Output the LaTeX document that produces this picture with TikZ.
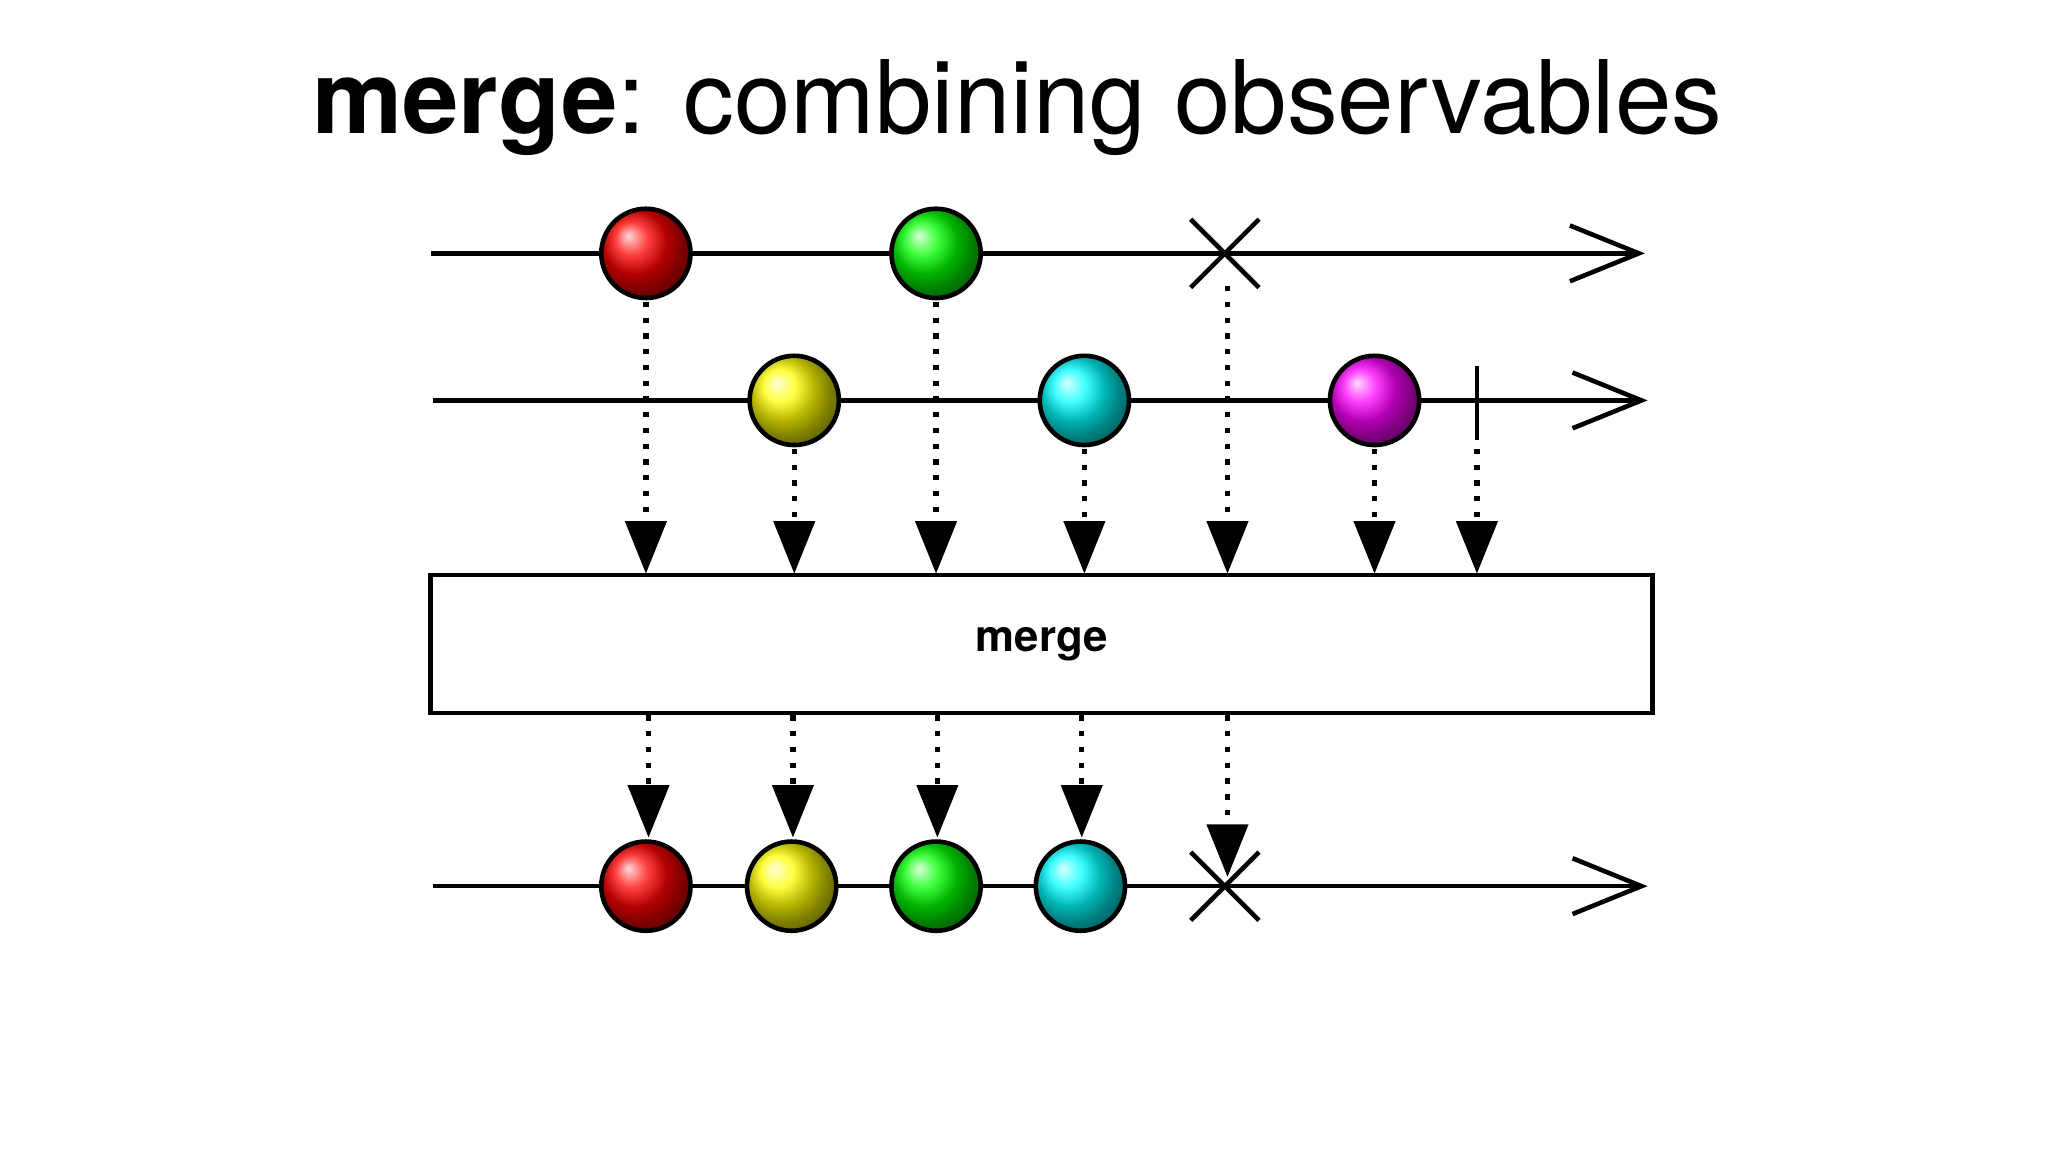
\documentclass[tikz,border=0pt]{standalone}
\usepackage{fontspec}
\setmainfont{TeX Gyre Heros}
\usetikzlibrary{arrows.meta,calc}
\begin{document}
\begin{tikzpicture}[x=0.02cm,y=-0.02cm,
  tl/.style={line width=0.07cm,-{Straight Barb[length=1.05cm,width=0.85cm,line width=0.07cm]}},
  dl/.style={line width=0.08cm,dash pattern=on 0.08cm off 0.16cm,-{Triangle[length=0.8cm,width=0.62cm]}},
  ball/.style={circle,draw=black,line width=0.07cm,minimum size=1.36cm,inner sep=0pt,shading=ball,ball color=#1},
  xm/.style={line width=0.07cm}]
\useasboundingbox (0,0) rectangle (1560,877.5);
\node (title) at (775,82) {\fontsize{44}{50}\selectfont\textbf{merge}: combining observables};
% line 1
\coordinate (a0) at (328,193); \coordinate (a1) at (1253,193);
\draw[tl] (a0) -- (a1);
\node[ball=red] (r1) at (492,193) {};
\node[ball=green] (g1) at (713,193) {};
\coordinate (x1) at (933,193);
\draw[xm] ($(x1)+(-26,-26)$) -- ($(x1)+(26,26)$) ($(x1)+(-26,26)$) -- ($(x1)+(26,-26)$);
% line 2
\coordinate (b0) at (330,305); \coordinate (b1) at (1255,305);
\draw[tl] (b0) -- (b1);
\node[ball=yellow] (y2) at (605,305) {};
\node[ball=cyan] (c2) at (826,305) {};
\node[ball=magenta] (m2) at (1047,305) {};
\coordinate (e2) at (1125,305);
\draw[xm] (1125,279) -- (1125,335);
% box
\node[draw,line width=0.07cm,minimum width=18.62cm,minimum height=2.1cm,inner sep=0pt,fill=white] (box) at (793.5,490.5) {\fontsize{19}{22}\selectfont\textbf{merge}};
% arrows in
\foreach \n/\x/\y in {r1/492/230,y2/605/342,g1/713/230,c2/826/342,x1/935/218,m2/1047/342,e2/1125/342}{
  \coordinate (s\n) at (\x,\y); \coordinate (t\n) at (\x,437);
  \draw[dl] (s\n) -- (t\n);}
% line 3
\coordinate (c0) at (330,675); \coordinate (c1) at (1255,675);
\draw[tl] (c0) -- (c1);
\node[ball=red] (r3) at (492,675) {};
\node[ball=yellow] (y3) at (603,675) {};
\node[ball=green] (g3) at (713,675) {};
\node[ball=cyan] (c3) at (823,675) {};
\coordinate (x3) at (933,675);
\draw[xm] ($(x3)+(-26,-26)$) -- ($(x3)+(26,26)$) ($(x3)+(-26,26)$) -- ($(x3)+(26,-26)$);
% arrows out
\foreach \n/\x/\y in {r3/494/638,y3/604/638,g3/714/638,c3/824/638,x3/935/668}{
  \coordinate (u\n) at (\x,545); \coordinate (v\n) at (\x,\y);
  \draw[dl] (u\n) -- (v\n);}
\end{tikzpicture}
\end{document}
